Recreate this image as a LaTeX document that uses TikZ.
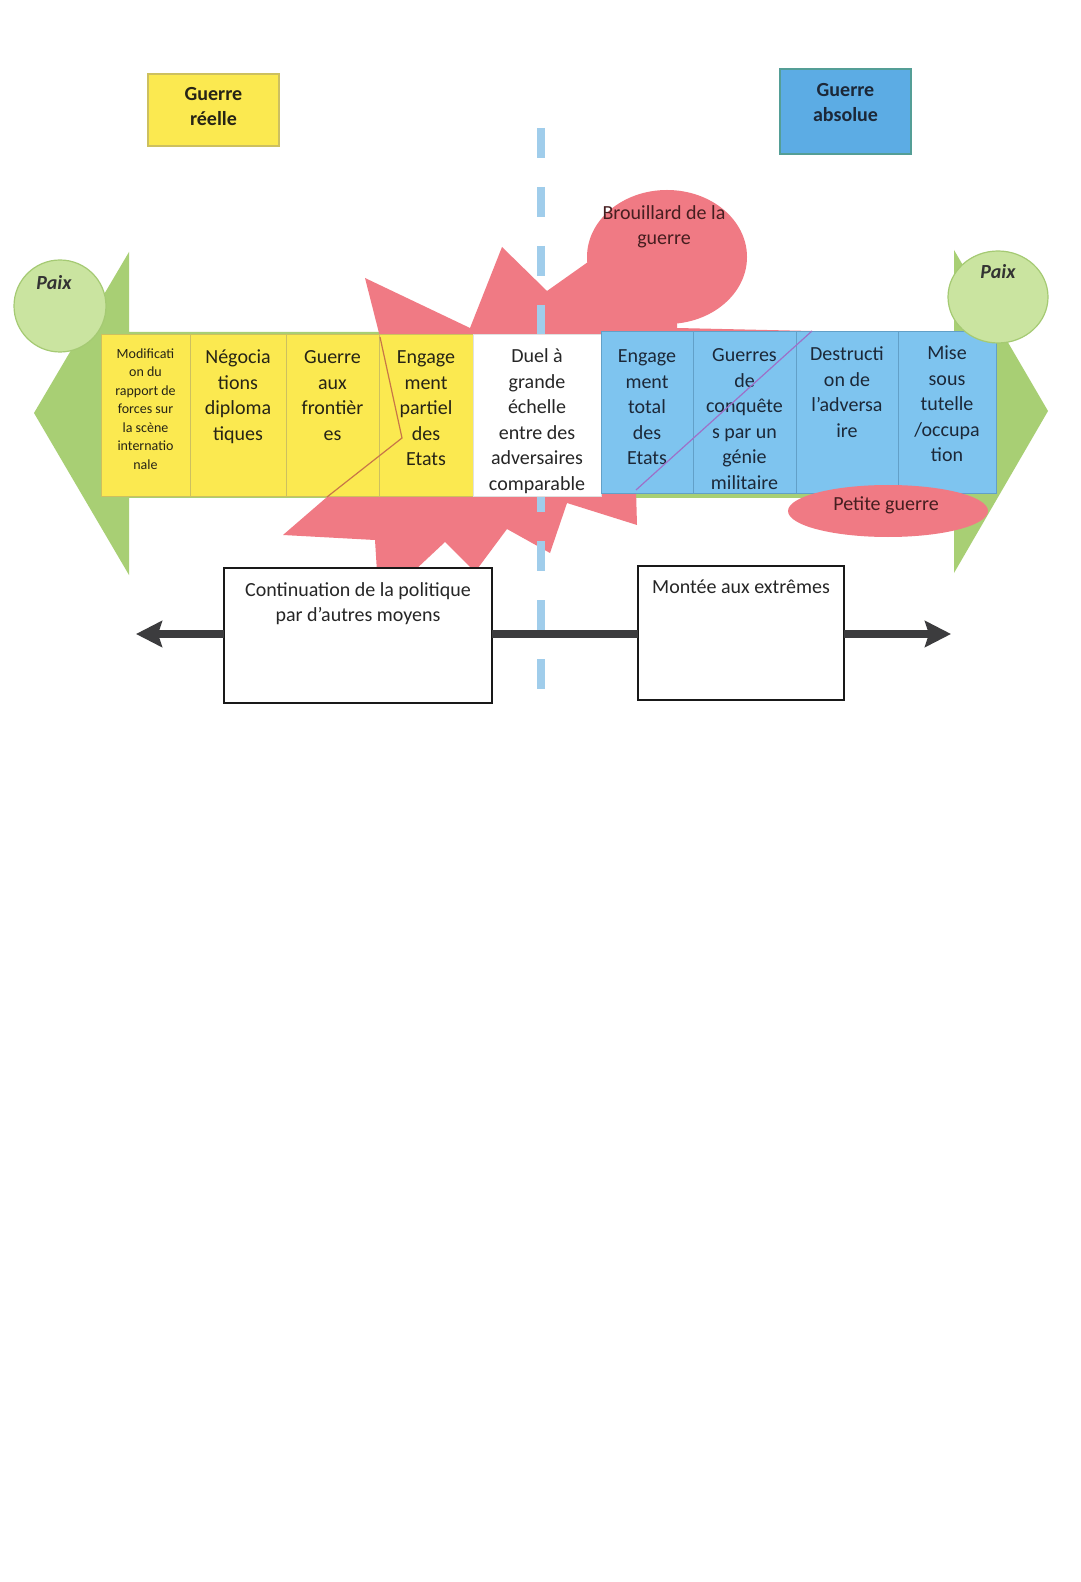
\documentclass[tikz,border=0pt]{standalone}
\usepackage{fontspec}
\setmainfont{Carlito}
\usetikzlibrary{positioning,arrows.meta,shapes.geometric}
\definecolor{cwgreen}{RGB}{168,207,116}
\definecolor{cwpaix}{RGB}{202,228,160}
\definecolor{cwpaixline}{RGB}{165,202,115}
\definecolor{cwred}{RGB}{240,122,132}
\definecolor{cwyellow}{RGB}{251,233,80}
\definecolor{cwyline}{RGB}{205,192,95}
\definecolor{cwblue}{RGB}{126,196,239}
\definecolor{cwbline}{RGB}{98,160,200}
\definecolor{cwhblue}{RGB}{92,172,228}
\definecolor{cwhbline}{RGB}{84,158,150}
\definecolor{cwdash}{RGB}{160,205,235}
\definecolor{cwbar}{RGB}{60,60,62}
\definecolor{cwtext}{RGB}{38,36,22}
\definecolor{cwbtext}{RGB}{28,40,56}
\definecolor{cwrtext}{RGB}{70,30,32}
% top-aligned text block: [first baseline]{width}{height}{text}
\newcommand{\toppar}[4][14.5pt]{\parbox[c][#3][t]{#2}{\centering\rule{0pt}{#1}#4}}

\begin{document}
\begin{tikzpicture}[x=0.5pt,y=-0.5pt,
  txt/.style={font={\fontsize{10pt}{12.75pt}\selectfont}},
  ycell/.style={txt,draw=cwyline,fill=cwyellow,line width=0.5pt,inner sep=0pt,outer sep=0pt,text=cwtext},
  bcell/.style={ycell,draw=cwbline,fill=cwblue,text=cwbtext},
  wcell/.style={ycell,draw=black!12,fill=white,text=black!85},
  head/.style={txt,font={\fontsize{10pt}{12.5pt}\selectfont\bfseries},inner sep=0pt,outer sep=0pt,line width=0.8pt},
  plainbox/.style={txt,draw=black!90,fill=white,line width=0.8pt,inner sep=0pt,outer sep=0pt,text=black!85},
  paixdisk/.style={circle,fill=cwpaix,draw=cwpaixline,line width=0.6pt,inner sep=0pt},
  paixlbl/.style={font={\fontsize{10pt}{12pt}\selectfont\bfseries\itshape},text=black!80,inner sep=0pt},
  foglbl/.style={txt,align=center,text=cwrtext,inner sep=0pt},
  bar/.style={line width=4pt,draw=cwbar},
  midline/.style={draw=cwdash,line width=4pt,dash pattern=on 15pt off 14.5pt}]

  \useasboundingbox (0,0) rectangle (1080,1582);
  \fill[white] (0,0) rectangle (1080,1582);

  % green double arrow behind the scale
  \fill[cwgreen] (34,413) -- (129,252) -- (129,332) -- (954,332) -- (954,250)
    -- (1048,411) -- (954,573) -- (954,498) -- (129,498) -- (129,575) -- cycle;
  \node[paixdisk,minimum size=46pt] (paixL) at (60,306) {};
  \node[paixlbl] (paixLt) at (54,283) {Paix};

  % explosion and fog bubble
  \fill[cwred] (365,278) -- (470,328) -- (502,247) -- (547,291) -- (588,262)
    -- (677,322) -- (677,328) -- (812,331) -- (636,490) -- (637,525) -- (567,503)
    -- (550,553) -- (507,529) -- (475,572) -- (445,542) -- (413,572) -- (377,572)
    -- (375,540) -- (283,535) -- (327,497) -- (402,438) -- (380,337) -- cycle;
  \fill[cwred] (667,257) ellipse [x radius=40pt,y radius=33.5pt];

  \coordinate (midtop) at (541,128);
  \coordinate (midbot) at (541,691);
  \draw[midline] (midtop) -- (midbot);

  % the scale
  \node[ycell,anchor=north west,font={\fontsize{7pt}{9.25pt}\selectfont}] (modif) at (101,335)
    {\toppar[11.75pt]{44.5pt}{81pt}{Modificati\\on du\\rapport de\\forces sur\\la scène\\internatio\\nale}};
  \node[ycell,right=0pt of modif] (nego) {\toppar{48pt}{81pt}{Négocia\\tions\\diploma\\tiques}};
  \node[ycell,right=0pt of nego] (front) {\toppar{46.5pt}{81pt}{Guerre\\aux\\frontièr\\es}};
  \node[ycell,right=0pt of front] (partiel) {\toppar{47pt}{81pt}{Engage\\ment\\partiel\\des\\Etats}};
  \node[wcell,right=0pt of partiel] (duel) {\toppar[14pt]{64pt}{81pt}{Duel à\\grande\\échelle\\entre des\\adversaires\\comparable}};
  \node[bcell,anchor=north west] (total) at (601,332) {\toppar[15.5pt]{46pt}{81pt}{Engage\\ment\\total\\des\\Etats}};
  \node[bcell,right=0pt of total] (conq) {\toppar[15pt]{51.5pt}{81pt}{Guerres\\de\\conquête\\s par un\\génie\\militaire}};
  \node[bcell,right=0pt of conq] (destr) {\toppar{51pt}{81pt}{Destructi\\on de\\l’adversa\\ire}};
  \node[bcell,right=0pt of destr] (tutelle) {\toppar[14pt]{49pt}{81pt}{Mise\\sous\\tutelle\\/occupa\\tion}};

  % explosion outline seen through the cells
  \draw[draw={rgb,255:red,200;green,118;blue,72},line width=0.6pt] (380,337) -- (402,438) -- (327,497);
  \draw[draw={rgb,255:red,158;green,112;blue,200},line width=0.6pt] (636,490) -- (812,331);

  \node[paixdisk,minimum width=50pt,minimum height=46pt,ellipse] (paixR) at (998,297) {};
  \node[paixlbl] (paixRt) at (998,272) {Paix};

  \node[ellipse,fill=cwred,minimum width=100pt,minimum height=26pt,inner sep=0pt] (petite) at (888,511) {};
  \node[foglbl] (petitet) at (886,505) {Petite guerre};
  \node[foglbl] (fog) at (664,227) {Brouillard de la\\guerre};

  % headings
  \node[head,draw=cwyline,fill=cwyellow,text=cwtext,anchor=north west] (reelle) at (148,74)
    {\toppar[13.5pt]{65.5pt}{36pt}{Guerre\\réelle}};
  \node[head,draw=cwhbline,fill=cwhblue,text=cwbtext,anchor=north west] (absolue) at (780,69)
    {\toppar[14pt]{65.5pt}{42.5pt}{Guerre\\absolue}};

  % bottom axis
  \coordinate (arrL) at (136,634);
  \coordinate (arrR) at (951,634);
  \node[plainbox,anchor=north west] (cont) at (224,568)
    {\toppar[14pt]{134pt}{67.5pt}{Continuation de la politique\\par d’autres moyens}};
  \node[plainbox,anchor=north west] (montee) at (638,566)
    {\toppar[13.5pt]{103pt}{67pt}{Montée aux extrêmes}};
  \draw[bar,{Stealth[length=13pt,width=13pt,inset=2pt]}-] (arrL) -- (arrL -| cont.west);
  \draw[bar] (arrL -| cont.east) -- (arrL -| montee.west);
  \draw[bar,-{Stealth[length=13pt,width=13pt,inset=2pt]}] (arrL -| montee.east) -- (arrR);
\end{tikzpicture}
\end{document}
